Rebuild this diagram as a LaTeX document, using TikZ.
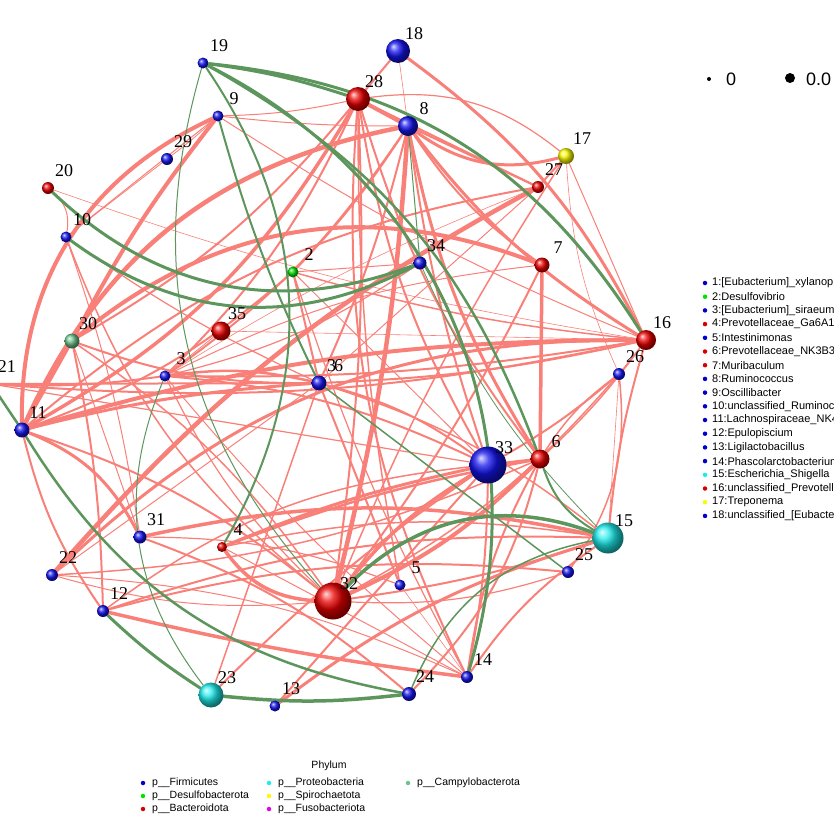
\documentclass[tikz,border=0pt]{standalone}
\usepackage{fontspec}
\setmainfont{Liberation Serif}
\setsansfont{Liberation Sans}
\usepackage{xcolor}
\usepackage{tikz}
\usetikzlibrary{calc, positioning}
\pgfdeclarelayer{bg}
\pgfsetlayers{bg,main}

\definecolor{rosa}{RGB}{248,128,120}
\definecolor{verdeosc}{RGB}{92,150,92}
\definecolor{azul}{RGB}{20,20,240}
\definecolor{rojo}{RGB}{235,0,0}
\definecolor{verdec}{RGB}{0,225,0}
\definecolor{cian}{RGB}{30,235,235}
\definecolor{amarillo}{RGB}{250,250,0}
\definecolor{fuchsia}{RGB}{230,0,230}
\definecolor{marino}{RGB}{110,195,140}
\definecolor{azulp}{RGB}{0,0,205}
\definecolor{rojop}{RGB}{215,0,0}

\tikzset{
  bola/.style={circle, inner sep=0pt, shading=ball},
  firm/.style={bola, ball color=azul},
  bact/.style={bola, ball color=rojo},
  desu/.style={bola, ball color=verdec},
  prot/.style={bola, ball color=cian},
  spir/.style={bola, ball color=amarillo},
  camp/.style={bola, ball color=marino},
  num/.style={font=\fontsize{18}{18}\selectfont, inner sep=0pt},
  negat/.style={draw=rosa, line cap=round},
  posit/.style={draw=verdeosc, line cap=round},
  punto/.style={circle, inner sep=0pt, minimum size=4.5pt},
  leyenda/.style={font=\sffamily\fontsize{10.5}{10.5}\selectfont, anchor=west, inner sep=0pt},
}

\begin{document}
\begin{tikzpicture}[x=1pt, y=-1pt]
	\useasboundingbox (0,0) rectangle (834,833);
	\clip (0,0) rectangle (834,833);
	% nodos %
	\node[firm, minimum size=11pt] (n19) at (203,63) {};
	\node[firm, minimum size=24pt] (n18) at (398,51) {};
	\node[bact, minimum size=24pt] (n28) at (358,99) {};
	\node[firm, minimum size=11pt] (n9) at (218,116) {};
	\node[firm, minimum size=20pt] (n8) at (408,126) {};
	\node[firm, minimum size=12pt] (n29) at (167,159) {};
	\node[spir, minimum size=16pt] (n17) at (566,156) {};
	\node[bact, minimum size=12pt] (n20) at (48,188) {};
	\node[bact, minimum size=12pt] (n27) at (538,187) {};
	\node[firm, minimum size=11pt] (n10) at (66,237) {};
	\node[desu, minimum size=11pt] (n2) at (293,272) {};
	\node[firm, minimum size=13pt] (n34) at (420,263) {};
	\node[bact, minimum size=15pt] (n7) at (542,265) {};
	\node[bact, minimum size=19pt] (n35) at (221,331) {};
	\node[camp, minimum size=15pt] (n30) at (72,341) {};
	\node[bact, minimum size=20pt] (n16) at (646,340) {};
	\node[firm, minimum size=12pt] (n26) at (619,374) {};
	\node[firm, minimum size=11pt] (n3) at (165,376) {};
	\node[firm, minimum size=15pt] (n36) at (319,383) {};
	\node[firm, minimum size=14pt] (n21) at (-9,384) {};
	\node[firm, minimum size=15pt] (n11) at (22,430) {};
	\node[firm, minimum size=37pt] (n33) at (488,465) {};
	\node[bact, minimum size=19pt] (n6) at (540,459) {};
	\node[prot, minimum size=31pt] (n15) at (608,538) {};
	\node[firm, minimum size=13pt] (n31) at (140,537) {};
	\node[bact, minimum size=10pt] (n4) at (222,547) {};
	\node[firm, minimum size=12pt] (n25) at (568,572) {};
	\node[firm, minimum size=12pt] (n22) at (52,575) {};
	\node[firm, minimum size=11pt] (n5) at (400,585) {};
	\node[bact, minimum size=37pt] (n32) at (333,601) {};
	\node[firm, minimum size=12pt] (n12) at (103,611) {};
	\node[firm, minimum size=12pt] (n14) at (467,677) {};
	\node[prot, minimum size=25pt] (n23) at (211,695) {};
	\node[firm, minimum size=14pt] (n24) at (409,694) {};
	\node[firm, minimum size=11pt] (n13) at (275,706) {};
	% etiquetas %
	\foreach \n/\x/\y in {19/203/63, 18/398/51, 28/358/99, 9/218/116, 8/408/126,
	  29/167/159, 17/566/156, 20/48/188, 27/538/187, 10/66/237, 2/293/272,
	  34/420/263, 7/542/265, 35/221/331, 30/72/341, 16/646/340, 26/619/374,
	  3/165/376, 21/-9/384, 11/22/430, 33/488/465, 6/540/459, 15/608/538,
	  31/140/537, 4/222/547, 25/568/572, 22/52/575, 5/400/585, 32/333/601,
	  12/103/611, 14/467/677, 23/211/695, 24/409/694, 13/275/706}
	  \node[num] (t\n) at (\x+16,\y-17) {\n};
	\node[num] (t36) at (335,366) {3\kern-2pt 6};
	% conexiones %
	\begin{pgfonlayer}{bg}
	\foreach \a/\b/\w/\c in {9/11/4pt/-33, 9/30/4pt/-5, 8/11/4.5pt/-27, 30/7/4pt/30,
	  11/16/4pt/8, 27/22/4.5pt/-10, 8/32/4.5pt/5, 8/17/3pt/-25, 28/8/4pt/0,
	  18/16/3pt/13, 8/16/3pt/-10, 7/6/3.5pt/0, 8/6/3pt/-10, 6/32/4pt/10,
	  33/32/3.5pt/-10, 31/15/3.5pt/12, 4/32/3.5pt/-25, 4/33/3pt/5, 4/6/2.5pt/5,
	  12/14/3.5pt/-3, 11/31/3pt/20, 11/30/3pt/0, 11/28/3.5pt/-15, 22/16/3pt/22,
	  13/15/3pt/10, 13/33/2pt/0, 23/33/2pt/5,
	  9/29/0.8pt/3, 9/10/1pt/0, 29/10/0.8pt/0, 20/10/1pt/30, 20/16/0.6pt/-5,
	  10/36/1.2pt/-5, 10/31/1pt/5, 9/28/1pt/-5, 9/8/1pt/-3, 9/16/1pt/-5,
	  28/18/2pt/0, 18/8/0.6pt/0, 28/17/1.2pt/23, 28/27/2pt/0, 28/3/2pt/10,
	  28/30/2pt/10, 28/33/2pt/-10, 28/32/2pt/5, 28/5/1.5pt/-5, 28/6/2pt/-10,
	  28/14/2pt/-15, 8/27/2pt/0, 8/7/2pt/-10, 8/33/2pt/-5, 8/36/2pt/5,
	  8/2/2pt/5, 8/3/2pt/10, 17/27/2pt/0, 17/32/1.5pt/-5, 17/26/0.6pt/-10,
	  17/16/1pt/0, 27/11/2pt/-15, 27/36/1pt/0, 27/3/0.6pt/-5, 7/32/2pt/5,
	  7/3/1pt/-10, 16/3/2pt/5, 16/36/2pt/5, 16/21/2pt/8, 16/26/1pt/0,
	  16/15/2pt/-5, 16/6/1.5pt/5, 26/33/2pt/5, 26/25/1.5pt/20, 26/15/0.6pt/0,
	  26/32/1.5pt/10, 26/6/1.5pt/-10, 34/3/1.2pt/10, 34/2/1pt/0, 2/36/2pt/0,
	  2/11/2pt/10, 2/16/1.5pt/-5, 2/14/1.2pt/-5, 2/33/1pt/0, 36/3/2.5pt/-10,
	  36/11/3pt/-5, 36/21/2pt/0, 36/33/2pt/10, 36/5/2pt/0, 36/15/1.5pt/10,
	  36/22/1pt/0, 35/3/0.8pt/0, 35/16/0.6pt/0, 3/33/2pt/10, 3/32/1.2pt/-10,
	  3/14/1pt/-5, 3/21/2pt/5, 21/33/1.2pt/0, 30/32/1.5pt/10, 30/31/1pt/0,
	  30/36/2pt/-10, 33/14/2pt/5, 33/12/1.5pt/-15, 6/14/2pt/-10, 6/33/3pt/0,
	  6/22/1.5pt/10, 6/24/2pt/15, 15/14/2pt/-10, 15/32/2pt/5, 15/4/1.5pt/-10,
	  15/12/2pt/-10, 25/12/2pt/-10, 25/32/1.2pt/10, 5/14/0.6pt/0, 5/31/1.2pt/-10,
	  32/10/1.5pt/15, 32/11/2pt/-10, 32/22/1pt/10, 12/11/2pt/10, 12/30/2pt/-5,
	  14/4/1pt/0, 14/22/1pt/-10, 24/31/2pt/-10, 23/36/1.5pt/0}
	  \draw[negat, line width=\w] (n\a) to[bend left=\c] (n\b);
	\foreach \a/\b/\w/\c in {19/16/3pt/26, 19/28/3pt/5, 19/14/3pt/40, 19/6/2.5pt/20,
	  19/4/2pt/32, 9/36/2pt/-5, 19/32/1pt/-29, 20/34/3pt/-32, 10/34/3pt/-32,
	  21/11/2.5pt/0, 11/24/2.5pt/-24, 12/23/3pt/-5, 23/24/3.5pt/-6,
	  3/23/1pt/-30, 32/15/3.5pt/33, 24/15/1.5pt/28, 36/25/1.5pt/0,
	  6/15/2pt/-20, 34/15/0.8pt/-10, 8/34/1pt/0}
	  \draw[posit, line width=\w] (n\a) to[bend left=\c] (n\b);
	\end{pgfonlayer}
	% leyenda de tamano %
	\node[punto, fill=black, minimum size=4pt] (s0) at (709,79) {};
	\node[leyenda, font=\sffamily\fontsize{18}{18}\selectfont] (ts0) at (726,79) {0};
	\node[punto, fill=black, minimum size=10pt] (s1) at (790,78) {};
	\node[leyenda, font=\sffamily\fontsize{18}{18}\selectfont] (ts1) at (806,79) {0.0};
	% leyenda de generos %
	\foreach \t/\c [count=\i] in {{1:[Eubacterium]\_xylanophilum\_group}/azulp,
	  {2:Desulfovibrio}/verdec, {3:[Eubacterium]\_siraeum\_group}/azulp,
	  {4:Prevotellaceae\_Ga6A1\_group}/rojop, {5:Intestinimonas}/azulp,
	  {6:Prevotellaceae\_NK3B31\_group}/rojop, {7:Muribaculum}/rojop,
	  {8:Ruminococcus}/azulp, {9:Oscillibacter}/azulp,
	  {10:unclassified\_Ruminococcaceae}/azulp, {11:Lachnospiraceae\_NK4A136\_group}/azulp,
	  {12:Epulopiscium}/azulp, {13:Ligilactobacillus}/azulp,
	  {14:Phascolarctobacterium}/azulp, {15:Escherichia\_Shigella}/cian,
	  {16:unclassified\_Prevotellaceae}/rojop, {17:Treponema}/amarillo,
	  {18:unclassified\_[Eubacterium]\_coprostanoligenes\_group}/azulp}
	{
	  \node[punto, fill=\c] (g\i) at (705,{283+13.7*(\i-1)}) {};
	  \node[leyenda, font=\sffamily\fontsize{11}{11}\selectfont] (tg\i) at (712,{283+13.7*(\i-1)}) {\t};
	}
	% leyenda de filos %
	\node[leyenda, anchor=center] (phy) at (329,766) {Phylum};
	\foreach \t/\c/\x/\y in {Firmicutes/azulp/143/783, Desulfobacterota/verdec/143/796,
	  Bacteroidota/rojop/143/809, Proteobacteria/cian/269/783,
	  Spirochaetota/amarillo/269/796, Fusobacteriota/fuchsia/269/809,
	  Campylobacterota/marino/408/783}
	{
	  \node[punto, fill=\c] (f\t) at (\x,\y) {};
	  \node[leyenda] (tf\t) at (\x+9,\y) {p\_\_\t};
	}
\end{tikzpicture}
\end{document}
